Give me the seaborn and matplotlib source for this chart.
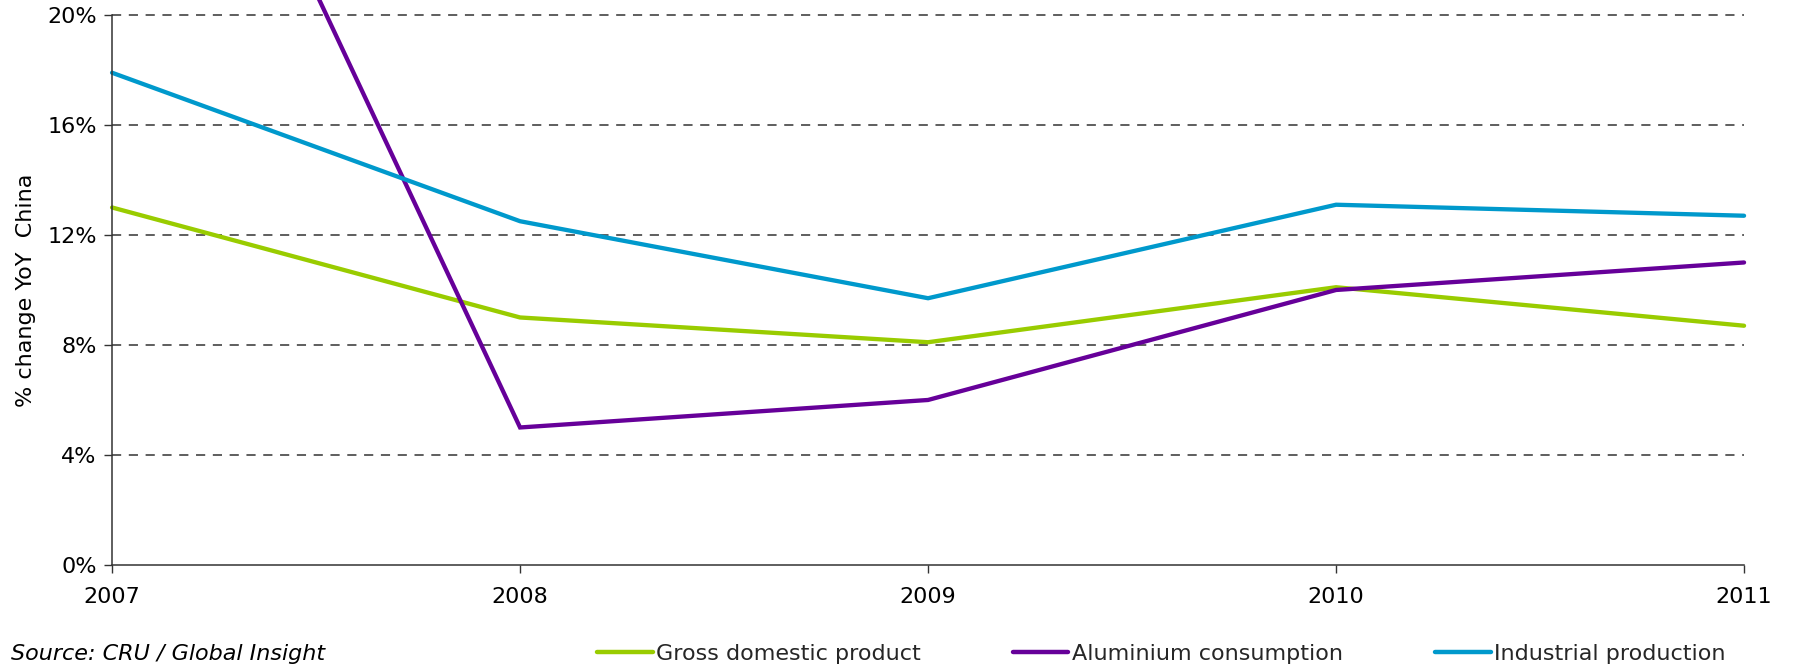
import matplotlib
matplotlib.use("Agg")
import matplotlib.pyplot as plt
import pandas as pd
import seaborn as sns
from matplotlib.ticker import FuncFormatter

# Year-on-year growth, China (%)
years = [2007, 2008, 2009, 2010, 2011]
gdp = [13.0, 9.0, 8.1, 10.1, 8.7]
aluminium = [36.6, 5.0, 6.0, 10.0, 11.0]
industrial = [17.9, 12.5, 9.7, 13.1, 12.7]

series_names = ["Gross domestic product", "Aluminium consumption", "Industrial production"]
colors = ["#99CC00", "#660099", "#0099CC"]

df = pd.concat([
    pd.DataFrame({"year": years, "value": vals, "series": name})
    for name, vals in zip(series_names, [gdp, aluminium, industrial])
])

sns.set_theme(style="white")
plt.rcParams["font.family"] = ["DejaVu Sans"]

FS = 16

fig = plt.figure(figsize=(17.93, 6.69), dpi=100)
ax = fig.add_axes([0.0625, 0.1555, 0.9102, 0.8221])

sns.lineplot(data=df, x="year", y="value", hue="series", hue_order=series_names,
             palette=colors, linewidth=3.1, ax=ax, legend=False)
for ln in ax.lines:
    ln.set_clip_on(False)
    ln.set_solid_joinstyle("miter")

ax.set_xlim(2007, 2011)
ax.set_ylim(0, 20)
ax.set_xticks(years)
ax.set_xticklabels([str(y) for y in years])
ax.set_yticks([0, 4, 8, 12, 16, 20])
ax.yaxis.set_major_formatter(FuncFormatter(lambda v, p: f"{v:.0f}%"))

for y in [4, 8, 12, 16, 20]:
    ax.axhline(y, color="#333333", lw=1.1, ls=(0, (6, 5)), zorder=0, clip_on=False)

for side in ["top", "right"]:
    ax.spines[side].set_visible(False)
for side in ["left", "bottom"]:
    ax.spines[side].set_color("#333333")
    ax.spines[side].set_linewidth(1.1)

ax.tick_params(axis="both", which="major", direction="out", length=6, width=1,
               color="#333333", labelsize=FS, labelcolor="#000000", pad=5,
               left=True, bottom=True)
ax.tick_params(axis="x", pad=10)
ax.set_xlabel("")
ax.set_ylabel("% change YoY  China", fontsize=FS, color="#000000", labelpad=8)

fig.text(0.006, 0.008, "Source: CRU / Global Insight", fontsize=FS, style="italic",
         color="#000000", ha="left", va="bottom")

handles = [plt.Line2D([], [], color=c, lw=3.2) for c in colors]
fig.legend(handles, series_names, loc="lower left", bbox_to_anchor=(0.328, -0.006),
           ncol=3, frameon=False, fontsize=FS, handlelength=2.5, handletextpad=0.15,
           columnspacing=4.15, borderaxespad=0)

fig.savefig("out.png", dpi=100)
